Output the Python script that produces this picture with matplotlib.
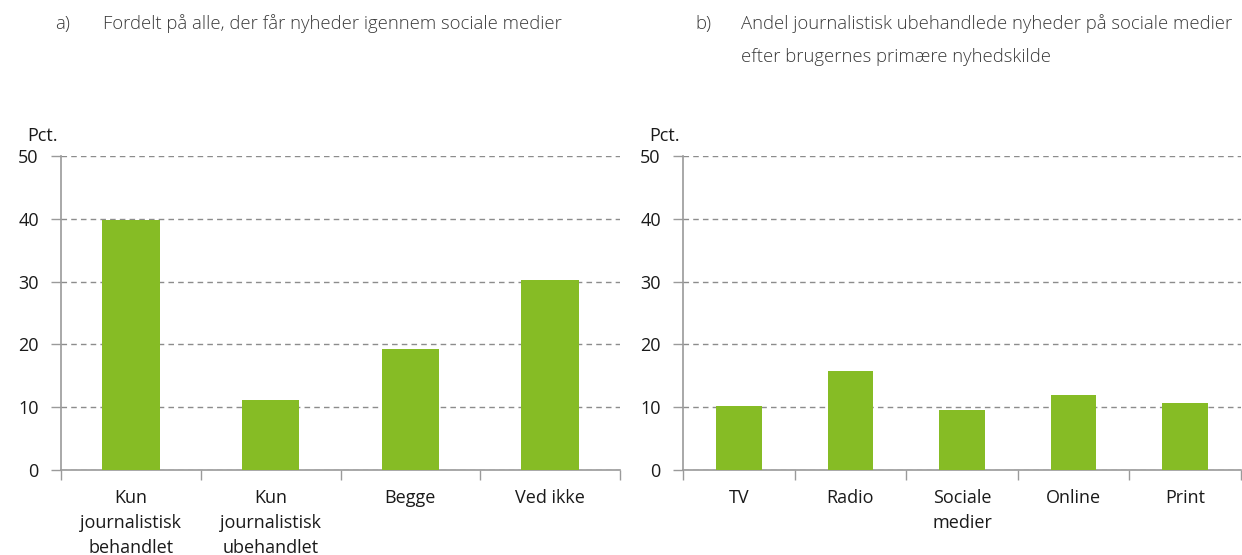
import matplotlib
matplotlib.use("Agg")
import matplotlib.pyplot as plt
import numpy as np

plt.rcParams['font.family'] = ['Open Sans', 'DejaVu Sans']

cats_a = ["Kun\njournalistisk\nbehandlet", "Kun\njournalistisk\nubehandlet", "Begge", "Ved ikke"]
vals_a = [39.8, 11.1, 19.3, 30.2]
cats_b = ["TV", "Radio", "Sociale\nmedier", "Online", "Print"]
vals_b = [10.2, 15.7, 9.6, 11.9, 10.7]
yticks = [0, 10, 20, 30, 40, 50]
title_a = "Fordelt på alle, der får nyheder igennem sociale medier"
title_b = "Andel journalistisk ubehandlede nyheder på sociale medier\nefter brugernes primære nyhedskilde"

GREEN = "#86bc25"
TXT = "#1a1a1a"
AX = "#9a9a9a"
FS = 13

fig = plt.figure(figsize=(12.42, 5.55), dpi=100)
ax1 = fig.add_axes([61/1242, 1-470/555, (620-61)/1242, (470-156)/555])
ax2 = fig.add_axes([683/1242, 1-470/555, (1241-683)/1242, (470-156)/555])

def style(ax, cats, vals):
    n = len(cats)
    x = np.arange(n)
    ax.bar(x, vals, width=0.41, color=GREEN, zorder=3)
    ax.set_xlim(-0.5, n - 0.5)
    ax.set_ylim(0, 50)
    ax.set_yticks(yticks)
    ax.set_yticklabels([str(t) for t in yticks], fontsize=FS, color=TXT)
    ax.yaxis.grid(True, linestyle=(0, (4, 3)), color="#8c8c8c", linewidth=1, zorder=0)
    ax.set_axisbelow(True)
    ax.set_xticks(np.arange(n + 1) - 0.5)
    ax.set_xticklabels([])
    ax.set_xticks(x, minor=True)
    ax.set_xticklabels(cats, minor=True, fontsize=FS, color=TXT, linespacing=1.5, va="top")
    ax.tick_params(axis="x", which="major", length=7, color=AX, width=1)
    ax.tick_params(axis="x", which="minor", length=0, pad=14)
    ax.tick_params(axis="y", length=7, color=AX, width=1, pad=9)
    for s in ["top", "right"]:
        ax.spines[s].set_visible(False)
    for s in ["left", "bottom"]:
        ax.spines[s].set_color(AX)
        ax.spines[s].set_linewidth(1.2)
    ax.text(-0.061, 1.034, "Pct.", transform=ax.transAxes, fontsize=FS, color=TXT, ha="left", va="bottom")

style(ax1, cats_a, vals_a)
style(ax2, cats_b, vals_b)

TFS = 13.3
TCOL = "#3a3a3a"
fig.text(55/1242, 1-24/555, "a)", fontsize=TFS, color=TCOL, va="center", ha="left", fontweight="light")
fig.text(103/1242, 1-24/555, title_a, fontsize=TFS, color=TCOL, va="center", ha="left", fontweight="light")
fig.text(695/1242, 1-24/555, "b)", fontsize=TFS, color=TCOL, va="center", ha="left", fontweight="light")
fig.text(741/1242, 1-14/555, title_b, fontsize=TFS, color=TCOL, va="top", ha="left", linespacing=2.05, fontweight="light")

fig.savefig("out.png", dpi=100)
